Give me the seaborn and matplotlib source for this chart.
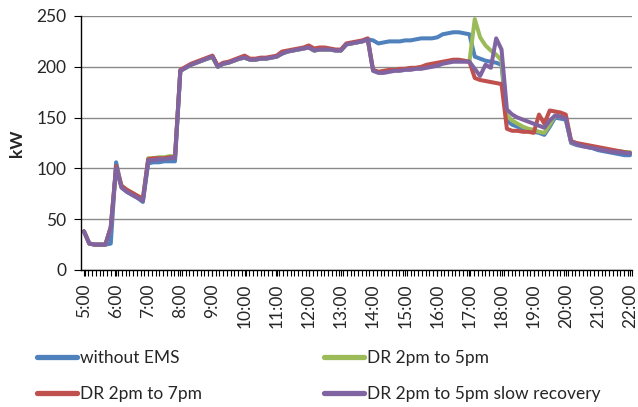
import numpy as np
import pandas as pd
import matplotlib
matplotlib.use("Agg")
import matplotlib.pyplot as plt
from matplotlib.ticker import MultipleLocator, FixedLocator
from matplotlib.lines import Line2D
import seaborn as sns

# Load profile, 10-minute steps from 05:00 to 22:00 (kW)
times = pd.date_range("2000-01-01 05:00", "2000-01-01 22:00", freq="10min")

without_ems = [
    38, 26, 25, 25, 25, 26,
    106, 82, 77, 74, 71, 67,
    105, 106, 106, 107, 107, 107,
    196, 199, 202, 204, 206, 208,
    210, 200, 203, 204, 206, 208,
    209, 207, 207, 208, 208, 209,
    210, 213, 215, 216, 217, 218,
    219, 216, 217, 217, 217, 216,
    216, 222, 223, 224, 225, 227,
    226, 223, 224, 225, 225, 225,
    226, 226, 227, 228, 228, 228,
    229, 232, 233, 234, 234, 233,
    232, 210, 208, 206, 205, 204,
    202, 147, 143, 141, 139, 137,
    136, 135, 133, 141, 150, 149,
    148, 125, 123, 122, 121, 120,
    118, 117, 116, 115, 114, 113,
    113,
]

dr_2_to_5 = [
    38, 26, 25, 25, 25, 42,
    100, 83, 79, 76, 73, 70,
    110, 110, 111, 111, 112, 112,
    196, 199, 202, 204, 206, 208,
    209, 200, 203, 204, 206, 208,
    209, 207, 207, 208, 208, 209,
    210, 213, 215, 216, 217, 218,
    219, 216, 217, 217, 217, 216,
    216, 222, 223, 224, 225, 227,
    197, 195, 195, 196, 197, 197,
    198, 198, 199, 199, 200, 201,
    202, 204, 205, 206, 206, 206,
    205, 247, 229, 221, 216, 212,
    206, 152, 147, 144, 141, 139,
    138, 136, 135, 143, 152, 151,
    150, 126, 124, 123, 122, 121,
    120, 119, 118, 117, 117, 116,
    116,
]

dr_2_to_7 = [
    38, 26, 25, 25, 25, 42,
    102, 83, 79, 76, 73, 70,
    109, 110, 110, 110, 111, 111,
    197, 200, 203, 205, 207, 209,
    211, 201, 204, 205, 207, 209,
    211, 208, 208, 209, 209, 210,
    211, 215, 216, 217, 218, 219,
    221, 218, 219, 219, 218, 217,
    217, 223, 224, 225, 226, 228,
    197, 195, 196, 197, 197, 198,
    198, 199, 199, 200, 202, 203,
    204, 205, 206, 207, 207, 206,
    205, 189, 187, 186, 185, 184,
    183, 139, 137, 137, 136, 136,
    135, 153, 144, 157, 156, 155,
    153, 127, 125, 124, 123, 122,
    121, 120, 119, 118, 117, 116,
    115,
]

dr_2_to_5_slow = [
    38, 26, 25, 25, 25, 42,
    100, 81, 77, 74, 71, 68,
    108, 108, 109, 109, 110, 110,
    196, 199, 202, 204, 206, 208,
    210, 200, 203, 204, 206, 208,
    209, 207, 207, 208, 208, 209,
    210, 213, 215, 216, 217, 218,
    219, 216, 217, 217, 217, 216,
    216, 222, 223, 224, 225, 227,
    196, 194, 194, 195, 196, 196,
    197, 197, 198, 198, 199, 200,
    201, 203, 204, 205, 205, 205,
    205, 198, 191, 202, 199, 228,
    217, 158, 153, 150, 148, 146,
    144, 142, 140, 147, 152, 151,
    149, 126, 124, 122, 121, 120,
    119, 118, 117, 116, 116, 115,
    115,
]

series_names = ["without EMS", "DR 2pm to 5pm", "DR 2pm to 7pm",
                "DR 2pm to 5pm slow recovery"]
series_values = [without_ems, dr_2_to_5, dr_2_to_7, dr_2_to_5_slow]
series_colors = ["#4F81BD", "#9BBB59", "#C0504D", "#8064A2"]

hour_labels = [f"{h}:00" for h in range(5, 23)]

hours = times.hour + times.minute / 60.0
frames = [pd.DataFrame({"hour": hours, "kW": vals, "series": name})
          for name, vals in zip(series_names, series_values)]
df = pd.concat(frames, ignore_index=True)

sns.set_theme(style="white")
plt.rcParams["font.family"] = ["Lato", "DejaVu Sans"]

fig = plt.figure(figsize=(6.38, 4.07), dpi=100)
ax = fig.add_axes([81 / 638, 1 - 270 / 407, 551 / 638, 254 / 407])

sns.lineplot(data=df, x="hour", y="kW", hue="series", hue_order=series_names,
             palette=series_colors, linewidth=2.9, ax=ax, legend=False,
             estimator=None, sort=False, solid_joinstyle="round",
             solid_capstyle="round")

ax.set_xlim(4.907, 22.062)
ax.set_ylim(0, 250)
ax.set_yticks(range(0, 251, 50))
ax.yaxis.grid(True, color="#8a8a8a", linewidth=1.0)
ax.set_axisbelow(True)

ax.xaxis.set_major_locator(FixedLocator(range(5, 23)))
ax.set_xticklabels(hour_labels, rotation=90, fontsize=12.5)
ax.xaxis.set_minor_locator(MultipleLocator(7 / 60))
ax.tick_params(axis="x", which="both", direction="out", length=4, width=0.8,
               color="black", bottom=True, pad=6)
ax.tick_params(axis="y", which="major", direction="out", length=5, width=0.8,
               color="black", left=True, labelsize=12.5, pad=5.5)

for side in ("top", "right"):
    ax.spines[side].set_visible(False)
for side in ("left", "bottom"):
    ax.spines[side].set_color("black")
    ax.spines[side].set_linewidth(1.0)

ax.set_xlabel("")
ax.set_ylabel("kW", fontsize=12.5, fontweight="bold", labelpad=8)

# Legend below the plot, filled row by row
handles = [Line2D([], [], color=c, linewidth=3.8) for c in series_colors]
order = [0, 2, 1, 3]
fig.legend([handles[i] for i in order], [series_names[i] for i in order],
           ncol=2, loc="upper left", bbox_to_anchor=(37 / 638, 1 - 350 / 407),
           frameon=False, fontsize=12.5, handlelength=2.3, handletextpad=0.2,
           labelspacing=1.15, columnspacing=7.0, borderpad=0, borderaxespad=0)

fig.savefig("out.png", dpi=100)
